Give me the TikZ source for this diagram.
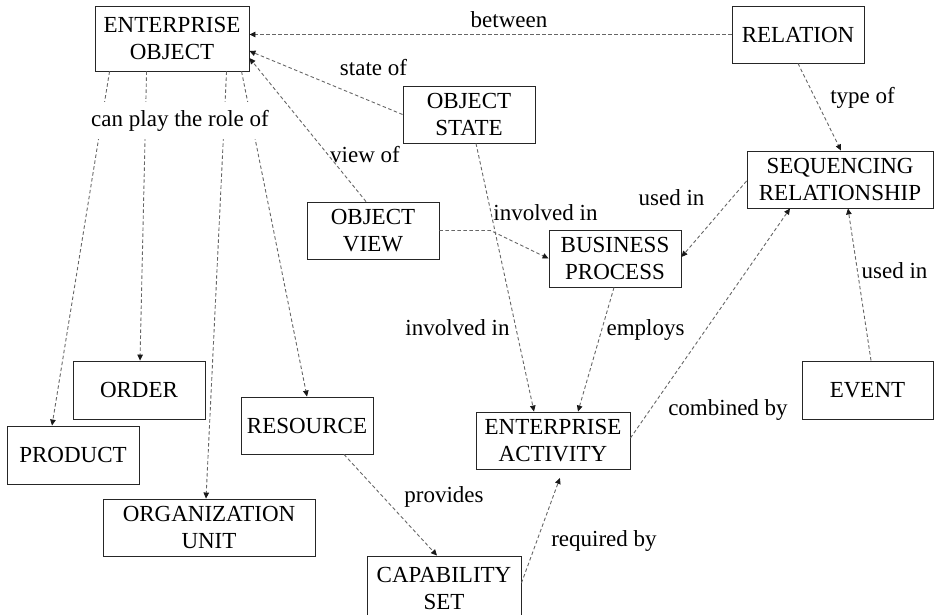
\documentclass[tikz,border=0pt]{standalone}
\usepackage{fontspec}
\setmainfont{Liberation Serif}
\usetikzlibrary{arrows.meta}
\begin{document}
\begin{tikzpicture}[x=1pt,y=-1pt,
  every node/.style={font=\rmfamily\fontsize{23}{27}\selectfont},
  box/.style={draw=black!85, line width=0.9pt, align=center, inner sep=0pt,
    minimum width=132pt, minimum height=57pt},
  link/.style={draw=black!60, line width=0.9pt, dash pattern=on 3.5pt off 2.5pt,
    -{Triangle[length=6pt,width=5.5pt,color=black!90,fill=black!90]}},
  lbl/.style={anchor=base, inner sep=0pt}]
\useasboundingbox (0,0) rectangle (934,614);

% concept boxes
\node[box, minimum width=154pt, minimum height=65pt] (eo) at (172,38.5) {ENTERPRISE\\OBJECT};
\node[box] (relation) at (798,34.5) {RELATION};
\node[box] (ost) at (469,114.5) {OBJECT\\STATE};
\node[box] (ov) at (373,230.5) {OBJECT\\VIEW};
\node[box, minimum width=186pt] (seq) at (840,179.5) {SEQUENCING\\RELATIONSHIP};
\node[box] (bp) at (615,258.5) {BUSINESS\\PROCESS};
\node[box, minimum height=58pt] (ord) at (139,390) {ORDER};
\node[box, minimum height=58pt] (prod) at (73,455) {PRODUCT};
\node[box, minimum width=212pt] (org) at (209,527.5) {ORGANIZATION\\UNIT};
\node[box] (res) at (307,425.5) {RESOURCE};
\node[box, minimum width=154pt, minimum height=65pt] (cap) at (444,588.5) {CAPABILITY\\SET};
\node[box, minimum width=154pt] (ea) at (553,440.5) {ENTERPRISE\\ACTIVITY};
\node[box, minimum width=131pt, minimum height=58pt] (ev) at (867.5,390) {EVENT};

% relations
\draw[link] (relation.west) -- (relation.west -| eo.east);
\draw[link] (ost.west) -- ([yshift=-12.5pt]eo.east);
\draw[link] ([xshift=-7pt]ov.north) -- ([yshift=-19.5pt]eo.east);

\draw[link] ([xshift=15pt]eo.south west) -- ([xshift=-21pt]prod.north);
\draw[link] ([xshift=52pt]eo.south west) -- ([xshift=1pt]ord.north);
\draw[link] ([xshift=132pt]eo.south west) -- ([xshift=-3pt]org.north);
\draw[link] ([xshift=147pt]eo.south west) -- (res.north);
\node[fill=white, inner xsep=1pt, inner ysep=0pt, minimum height=37pt] (role) at (180,120.5) {can play the role of};

\draw[link] (ov.east) -- ++(51,0) -- (bp.west);
\draw[link] ([xshift=7pt]ost.south) -- ([xshift=-19pt]ea.north);
\draw[link] ([xshift=-1pt]bp.south) -- ([xshift=25pt]ea.north);
\draw[link] ([yshift=-1.5pt]seq.west) -- ([yshift=1.5pt]bp.east);
\draw[link] (relation.south) -- ([xshift=1pt]seq.north);
\draw[link] ([xshift=3.5pt]ev.north) -- ([xshift=8pt]seq.south);
\draw[link] ([yshift=2.5pt]ea.east) -- ([xshift=-50pt]seq.south);
\draw[link] ([xshift=37pt]res.south) -- ([xshift=-7pt]cap.north);
\draw[link, shorten >=9pt] ([yshift=5.5pt]cap.east) -- ([xshift=10pt]ea.south);

% relation labels
\node[lbl] (l1) at (509,27) {between};
\node[lbl] (l2) at (373.5,75) {state of};
\node[lbl] (l3) at (365,162) {view of};
\node[lbl] (l4) at (545.5,220) {involved in};
\node[lbl] (l5) at (671.5,205) {used in};
\node[lbl] (l6) at (862.5,103) {type of};
\node[lbl] (l7) at (894.5,278) {used in};
\node[lbl] (l8) at (457.5,335) {involved in};
\node[lbl] (l9) at (645.5,335) {employs};
\node[lbl] (l10) at (728,415) {combined by};
\node[lbl] (l11) at (444,502) {provides};
\node[lbl] (l12) at (604,546) {required by};
\end{tikzpicture}
\end{document}
